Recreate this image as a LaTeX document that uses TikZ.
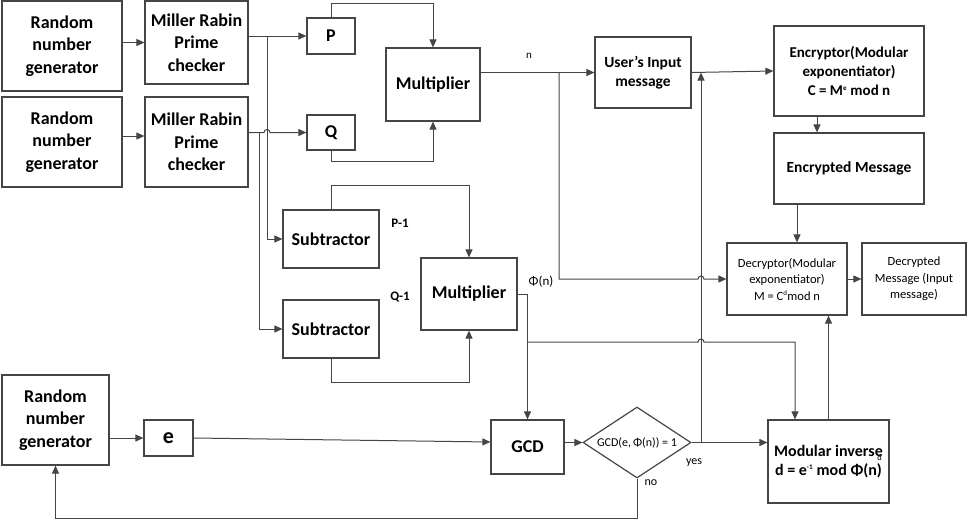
\documentclass[tikz,border=0pt]{standalone}
\usepackage{fontspec}
\setmainfont{Carlito}
\usetikzlibrary{arrows.meta,shapes.geometric}
\definecolor{linegray}{HTML}{454545}
\newcommand{\tinysup}[1]{\textsuperscript{\fontsize{7}{7}\selectfont #1}}

\begin{document}
\begin{tikzpicture}[
    x = 1pt, y = -1pt,
    >={Triangle[length=8pt, width=7pt]},
    main/.style = {draw=linegray, line width=1.2pt, align=center, inner sep=1pt,
                   font=\bfseries\fontsize{18}{22.5}\selectfont},
    plain/.style = {main, font=\fontsize{12.5}{16.5}\selectfont},
    tag/.style = {inner sep=0pt, font=\fontsize{12}{14}\selectfont},
    link/.style = {draw=linegray, line width=1pt, ->}
]
\useasboundingbox (0,0) rectangle (967,520);

% Key generation
\node[main, minimum width=120pt, minimum height=90pt] (1) at (62,46) {Random\\number\\generator};
\node[main, minimum width=103pt, minimum height=83pt] (2) at (196.5,42.5) {Miller Rabin\\Prime\\checker};
\node[main, minimum width=120pt, minimum height=90pt] (3) at (62,142) {Random\\number\\generator};
\node[main, minimum width=103pt, minimum height=90pt] (4) at (196.5,142) {Miller Rabin\\Prime\\checker};

\node[main, minimum width=48pt, minimum height=36pt] (5) at (331,36) {P};
\node[main, minimum width=48pt, minimum height=35pt] (6) at (331,132.5) {Q};
\node[main, minimum width=94pt, minimum height=73pt] (7) at (433,84.5) {Multiplier};

% Totient
\node[main, minimum width=96pt, minimum height=58pt] (8) at (331,239) {Subtractor};
\node[main, minimum width=96pt, minimum height=58pt] (9) at (331,329) {Subtractor};
\node[main, minimum width=96pt, minimum height=72pt] (10) at (469,294) {Multiplier};

% Encryption and decryption
\node[main, font=\bfseries\fontsize{15.5}{19}\selectfont, minimum width=96pt, minimum height=71pt] (11) at (643,72.5) {User’s Input\\message};
\node[main, font=\bfseries\fontsize{15}{19}\selectfont, minimum width=150pt, minimum height=90pt] (12) at (849,71) {Encryptor(Modular\\exponentiator)\\C = M\tinysup{e} mod n};
\node[main, font=\bfseries\fontsize{15.5}{19}\selectfont, minimum width=150pt, minimum height=71pt] (13) at (849,168.5) {Encrypted Message};
\node[plain, minimum width=120pt, minimum height=72pt] (14) at (787,279) {Decryptor(Modular\\exponentiator)\\M = C\tinysup{d}mod n};
\node[plain, minimum width=104pt, minimum height=72pt] (15) at (914,279) {Decrypted\\Message (Input\\message)};

% Public and private exponent
\node[main, minimum width=107pt, minimum height=90pt] (16) at (55.5,420) {Random\\number\\generator};
\node[main, font=\bfseries\fontsize{22}{22}\selectfont, minimum width=49pt, minimum height=36pt] (17) at (168.5,438) {e};
\node[main, minimum width=73pt, minimum height=54pt] (18) at (527.5,447) {GCD};
\node[plain, diamond, aspect=1.52, inner sep=0pt, font=\fontsize{12}{14}\selectfont,
      minimum width=108pt, minimum height=71pt] (19) at (637,442.5) {GCD(e,\,Φ(n)) = 1};
\node[main, font=\bfseries\fontsize{16}{19}\selectfont, minimum width=121pt, minimum height=83pt] (20) at (828.5,461.5)
    {Modular inverse\llap{\raisebox{-4pt}{\mdseries\fontsize{8.5}{8.5}\selectfont d}\kern1pt}\\d = e\tinysup{-1} mod Φ(n)};

% Labels
\node[tag, font=\fontsize{11}{12}\selectfont] (31) at (529,56) {n};
\node[tag, font=\bfseries\fontsize{13}{14}\selectfont] (32) at (400,223) {P-1};
\node[tag, font=\bfseries\fontsize{13}{14}\selectfont] (33) at (400,297) {Q-1};
\node[tag, font=\fontsize{13}{14}\selectfont] (34) at (541,282) {Φ(n)};
\node[tag] (35) at (694,463) {yes};
\node[tag] (36) at (651,483) {no};

% Junctions and line hops
\coordinate (21) at (267,36);
\coordinate (22) at (259,132.5);
\coordinate (23) at (264,132.5);
\coordinate (24) at (559,72.5);
\coordinate (25) at (698,279);
\coordinate (26) at (527.5,342);
\coordinate (27) at (698,342);
\coordinate (28) at (701,442.5);

% Primes
\draw[link] (1.east |- 2.west) -- (2.west);
\draw[link] ([yshift=6pt]3.east) -- ([yshift=6pt]4.west);
\draw[link] (2.east |- 5.west) -- (5.west);
\draw[link] (4.east |- 6.west) -- (23) arc[start angle=180, end angle=0, radius=3pt] -- (6.west);
\draw[link] (21) |- (8.west);
\draw[link] (22) |- (9.west);

% Multipliers
\draw[link] (5.north) -- ++(0,-14) -| (7.north);
\draw[link] (6.south) -- ++(0,11) -| (7.south);
\draw[link] (8.north) -- ++(0,-24) -| (10.north);
\draw[link] (9.south) -- ++(0,24) -| (10.south);

% n and message
\draw[link] (7.east |- 11.west) -- (11.west);
\draw[link] (24) |- (25) arc[start angle=180, end angle=0, radius=3pt] -- (14.west);
\draw[link] (11.east) -- (12.west);
\draw[link] ([xshift=-32pt]12.south) -- ([xshift=-32pt]13.north);
\draw[link] ([xshift=-52pt]13.south) -- ([xshift=10pt]14.north);
\draw[link] (14.east) -- (15.west);

% Phi(n)
\draw[link] (10.east) -| (18.north);
\draw[link] (26) -- (27) arc[start angle=180, end angle=0, radius=3pt] -| ([xshift=-33.5pt]20.north);
\draw[link] (20.north) -- (20.north |- 14.south);

% e and GCD check
\draw[link] (16.east |- 17.west) -- (17.west);
\draw[link] (17.east) -- ([yshift=5pt]18.west);
\draw[link] (18.east |- 19.west) -- (19.west);
\draw[link] (19.east) -- (20.west |- 19.east);
\draw[link] (28) -- (28 |- 11.east);
\draw[link] (19.south) -- ++(0,40) -| (16.south);

\end{tikzpicture}
\end{document}
